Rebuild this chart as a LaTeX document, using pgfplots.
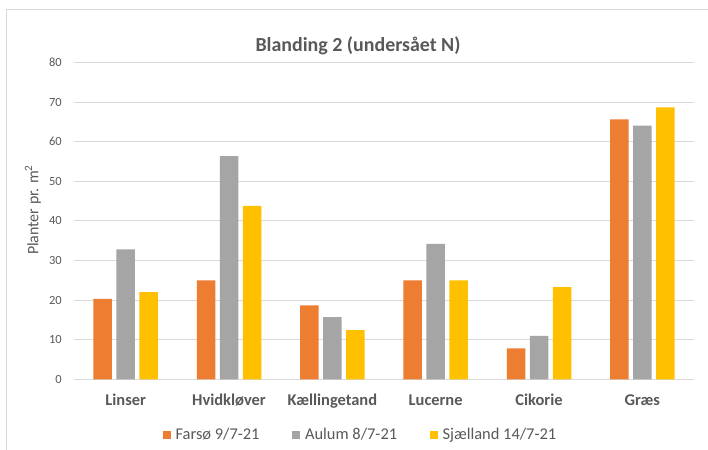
\documentclass[border=0pt]{standalone}
\usepackage{pgfplots}
\pgfplotsset{compat=1.18}
\usepackage{fontspec}
\setmainfont{Carlito}
\definecolor{txt}{HTML}{595959}
\definecolor{gridc}{HTML}{D9D9D9}
\definecolor{cA}{HTML}{ED7D31}
\definecolor{cB}{HTML}{A5A5A5}
\definecolor{cC}{HTML}{FFC000}
\begin{document}
\begin{tikzpicture}[x=1bp,y=1bp]
\useasboundingbox (0,0) rectangle (708,450);
\fill[white] (0,0) rectangle (708,450);
\draw[gridc, line width=1.2bp] (6.5,0) -- (6.5,440.5) -- (708,440.5);
\node[text=txt, font=\fontsize{20}{24}\selectfont\bfseries] at (358,404) {Blanding 2 (undersået N)};
\begin{axis}[
  at={(74bp,70.7bp)}, anchor=south west,
  scale only axis, width=620bp, height=316.6bp,
  ymin=0, ymax=80, xmin=-0.5, xmax=5.5,
  ytick={0,10,...,80},
  xtick={0,1,2,3,4,5},
  xticklabels={Linser,Hvidkløver,Kællingetand,Lucerne,Cikorie,Græs},
  /pgf/number format/assume math mode=true,
  axis line style={draw=none},
  major tick length=0pt,
  ymajorgrids, grid style={gridc, line width=1bp},
  yticklabel style={text=txt, font=\fontsize{12.5}{14}\selectfont, anchor=east, inner sep=0pt, xshift=-12bp},
  xticklabel style={text=txt, font=\fontsize{16.5}{19}\selectfont\bfseries, anchor=base, inner sep=0pt, yshift=-26.7bp},
  ylabel={Planter pr. m\textsuperscript{2}},
  ylabel style={text=txt, font=\fontsize{16}{19}\selectfont, at={(axis description cs:0,0.535)}, anchor=center, yshift=41bp},
  ybar=4.5bp, bar width=18.5bp,
  legend columns=3,
  legend style={draw=none, fill=none, at={(rel axis cs:0.462,-0.176)}, anchor=center, font=\fontsize{16.5}{19}\selectfont, text=txt,
    /tikz/every odd column/.append style={column sep=3bp},
    /tikz/every even column/.append style={column sep=30.5bp}},
  legend image code/.code={\fill[#1] (0bp,-4bp) rectangle (8bp,4bp);},
  clip=false,
]
\addplot[fill=cA, draw=none] coordinates {(0,20.3) (1,25.0) (2,18.7) (3,25.0) (4,7.8) (5,65.7)};
\addplot[fill=cB, draw=none] coordinates {(0,32.8) (1,56.4) (2,15.7) (3,34.2) (4,11.0) (5,64.1)};
\addplot[fill=cC, draw=none] coordinates {(0,22.0) (1,43.8) (2,12.4) (3,25.0) (4,23.3) (5,68.7)};
\legend{Farsø 9/7-21, Aulum 8/7-21, Sjælland 14/7-21}
\end{axis}
\end{tikzpicture}
\end{document}
